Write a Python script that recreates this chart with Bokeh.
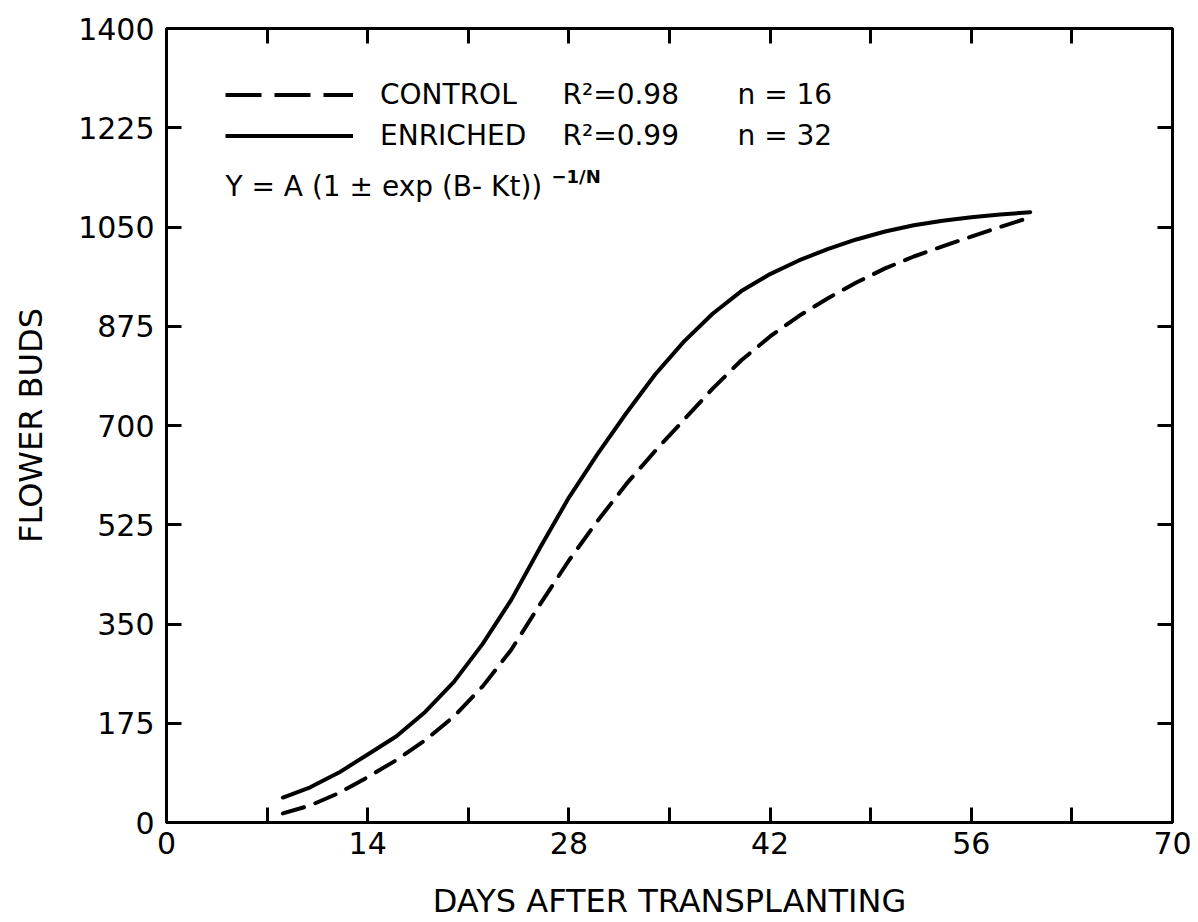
from bokeh.plotting import figure
from bokeh.models import Range1d, LinearAxis, FixedTicker, Legend, LegendItem, Label
from bokeh.embed import file_html
from bokeh.resources import INLINE

# ---- data ----
days = [8.1, 10, 12, 14, 16, 18, 20, 22, 24, 26, 28, 30, 32, 34, 36, 38, 40,
        42, 44, 46, 48, 50, 52, 54, 56, 58, 60.1]
buds_control = [16, 30, 52, 80, 110, 145, 187, 240, 305, 385, 462, 532, 597,
                655, 710, 765, 815, 857, 893, 924, 952, 977, 998, 1016, 1033,
                1050, 1067]
buds_enriched = [44, 62, 88, 120, 152, 195, 248, 315, 393, 485, 573, 650, 722,
                 790, 848, 897, 937, 967, 991, 1011, 1028, 1042, 1053, 1061,
                 1067, 1072, 1076]

x_ticks = [0, 7, 14, 21, 28, 35, 42, 49, 56, 63, 70]
x_tick_labels = ["0", "", "14", "", "28", "", "42", "", "56", "", "70"]
y_ticks = [0, 175, 350, 525, 700, 875, 1050, 1225, 1400]
y_tick_labels = ["0", "175", "350", "525", "700", "875", "1050", "1225", "1400"]

series_names = ["CONTROL", "ENRICHED"]
r_squared = ["R\u00b2=0.98", "R\u00b2=0.99"]
n_values = ["n = 16", "n = 32"]
equation = "Y = A (1 \u00b1 exp (B- Kt))"
exponent = "\u22121/N"

FONT = "DejaVu Sans"

p = figure(width=1198, height=922, x_range=Range1d(0, 70), y_range=Range1d(0, 1400),
           output_backend="svg", toolbar_location=None,
           min_border_left=166, min_border_right=26, min_border_top=28,
           min_border_bottom=100, x_axis_type=None, y_axis_type=None)
p.grid.visible = False
p.outline_line_color = "black"
p.outline_line_width = 3
p.background_fill_color = "white"
p.border_fill_color = "white"


def style_axis(ax, ticks, labels, show_labels):
    ax.ticker = FixedTicker(ticks=ticks)
    ax.major_label_overrides = {t: l for t, l in zip(ticks, labels)}
    ax.major_tick_in = 15
    ax.major_tick_out = 0
    ax.minor_tick_in = 0
    ax.minor_tick_out = 0
    ax.major_tick_line_width = 3
    ax.major_tick_line_color = "black"
    ax.axis_line_width = 3
    ax.axis_line_color = "black"
    ax.major_label_text_font = FONT
    ax.major_label_text_font_size = "30px"
    ax.major_label_text_color = "black"
    ax.axis_label_text_color = "black"
    if not show_labels:
        ax.major_label_text_alpha = 0
        ax.major_label_text_font_size = "1px"


bottom = LinearAxis()
style_axis(bottom, x_ticks, x_tick_labels, True)
bottom.major_label_standoff = 9
bottom.axis_label = "DAYS AFTER TRANSPLANTING"
bottom.axis_label_text_font = FONT
bottom.axis_label_text_font_size = "32px"
bottom.axis_label_text_font_style = "normal"
bottom.axis_label_standoff = 25
p.add_layout(bottom, "below")

top = LinearAxis()
style_axis(top, x_ticks, [""] * len(x_ticks), False)
p.add_layout(top, "above")

left = LinearAxis()
style_axis(left, y_ticks, y_tick_labels, True)
left.major_label_standoff = 12
left.axis_label = "FLOWER BUDS"
left.axis_label_text_font = FONT
left.axis_label_text_font_size = "32px"
left.axis_label_text_font_style = "normal"
left.axis_label_standoff = 25
p.add_layout(left, "left")

right = LinearAxis()
style_axis(right, y_ticks, [""] * len(y_ticks), False)
p.add_layout(right, "right")

r_ctrl = p.line(days, buds_control, line_color="black", line_width=4,
                line_dash="22 12", line_cap="round", line_join="round")
r_enr = p.line(days, buds_enriched, line_color="black", line_width=4,
               line_cap="round", line_join="round")

# legend key proxies (longer dashes in the key), no visible data
nan = float("nan")
leg_ctrl = p.line([nan], [nan], line_color="black", line_width=4, line_dash="36 13")
leg_enr = p.line([nan], [nan], line_color="black", line_width=4)

legend = Legend(items=[LegendItem(label=series_names[0], renderers=[leg_ctrl]),
                       LegendItem(label=series_names[1], renderers=[leg_enr])],
                location=(59, 666), orientation="vertical",
                glyph_width=128, glyph_height=41, label_height=41,
                label_standoff=27, spacing=0, padding=0, margin=0,
                border_line_alpha=0, background_fill_alpha=0,
                label_text_font=FONT, label_text_font_size="28px",
                label_text_color="black")
p.add_layout(legend, "center")


def px_to_x(px):
    return (px - 166) / (1172 - 166) * 70


def px_to_y(py):
    return (822 - py) / (822 - 28) * 1400


for i, (rs, nv) in enumerate(zip(r_squared, n_values)):
    yrow = px_to_y(94 + 41 * i)
    p.add_layout(Label(x=px_to_x(562), y=yrow, text=rs, text_font=FONT,
                       text_font_size="28px", text_baseline="middle",
                       text_color="black"))
    p.add_layout(Label(x=px_to_x(737), y=yrow, text=nv, text_font=FONT,
                       text_font_size="28px", text_baseline="middle",
                       text_color="black"))

p.add_layout(Label(x=px_to_x(225), y=px_to_y(186), text=equation, text_font=FONT,
                   text_font_size="28px", text_baseline="middle",
                   text_color="black"))
p.add_layout(Label(x=px_to_x(551), y=px_to_y(176), text=exponent, text_font=FONT,
                   text_font_size="18px", text_font_style="bold",
                   text_baseline="middle", text_color="black"))

open("out.html", "w").write(file_html(p, INLINE))
